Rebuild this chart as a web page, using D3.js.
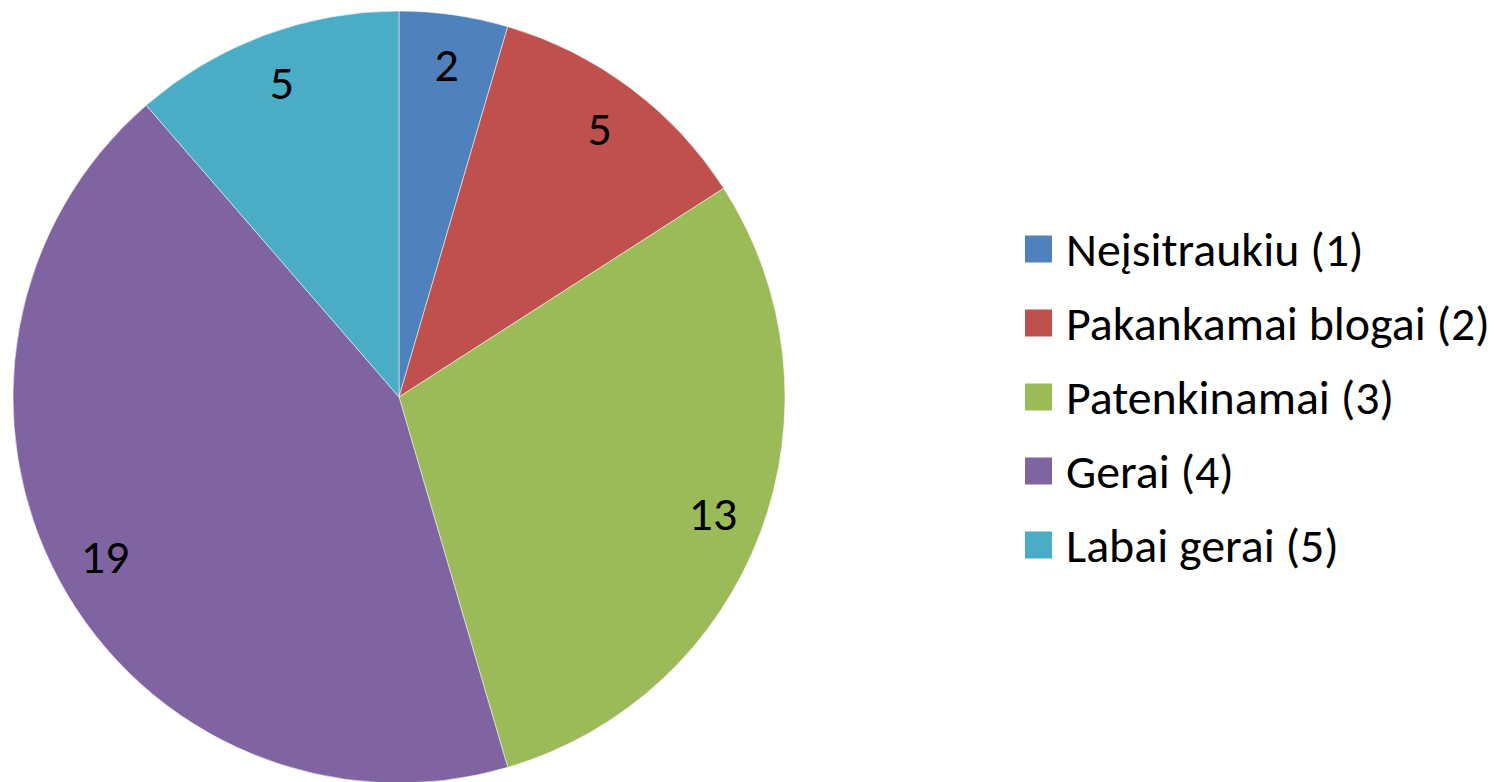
<!DOCTYPE html>
<html>
<head>
<meta charset="utf-8">
<script src="https://cdn.jsdelivr.net/npm/d3@7"></script>
<style>
  body { margin: 0; background: #fff; }
  svg { display: block; }
</style>
</head>
<body>
<svg id="chart" width="1494" height="782"></svg>
<script>
const categories = ['Neįsitraukiu (1)', 'Pakankamai blogai (2)', 'Patenkinamai (3)', 'Gerai (4)', 'Labai gerai (5)'];
const values = [2, 5, 13, 19, 5];
const colors = ['#4F81BD', '#C0504D', '#9BBB59', '#8064A2', '#4BACC6'];

const svg = d3.select('#chart');
const cx = 399, cy = 397, radius = 386;
const fontFam = 'Carlito, Calibri, Lato, sans-serif';

const data = categories.map((c, i) => ({ name: c, value: values[i], color: colors[i] }));

const pie = d3.pie().sort(null).value(d => d.value);
const arc = d3.arc().innerRadius(0).outerRadius(radius);
const labelArc = d3.arc().innerRadius(335).outerRadius(335);

const g = svg.append('g').attr('transform', 'translate(' + cx + ',' + cy + ')');

g.selectAll('path')
  .data(pie(data))
  .enter().append('path')
  .attr('d', arc)
  .attr('fill', d => d.data.color)
  .attr('stroke', 'rgba(255,255,255,0.5)')
  .attr('stroke-width', 1);

g.selectAll('text.val')
  .data(pie(data))
  .enter().append('text')
  .attr('class', 'val')
  .attr('transform', d => 'translate(' + labelArc.centroid(d) + ')')
  .attr('text-anchor', 'middle')
  .attr('dy', '0.33em')
  .style('font-family', fontFam)
  .style('font-size', '38px')
  .attr('fill', '#000')
  .text(d => d.data.value);

// legend
const legend = svg.append('g').attr('transform', 'translate(1025,249)');
const rowH = 74;
const items = legend.selectAll('g')
  .data(data)
  .enter().append('g')
  .attr('transform', (d, i) => 'translate(0,' + (i * rowH) + ')');

items.append('rect')
  .attr('x', 0).attr('y', -13.5)
  .attr('width', 27).attr('height', 27)
  .attr('fill', d => d.color);

const txt = items.append('text')
  .attr('x', 41)
  .attr('dy', '0.36em')
  .style('font-family', fontFam)
  .style('font-size', '38px')
  .attr('fill', '#000')
  .text(d => d.name);

// fit the longest label to the width seen in the picture
let maxW = 0;
txt.each(function () { maxW = Math.max(maxW, this.getComputedTextLength()); });
const fs = 38 * 424 / maxW;
txt.style('font-size', fs + 'px');
g.selectAll('text.val').style('font-size', fs + 'px');
</script>
</body>
</html>
